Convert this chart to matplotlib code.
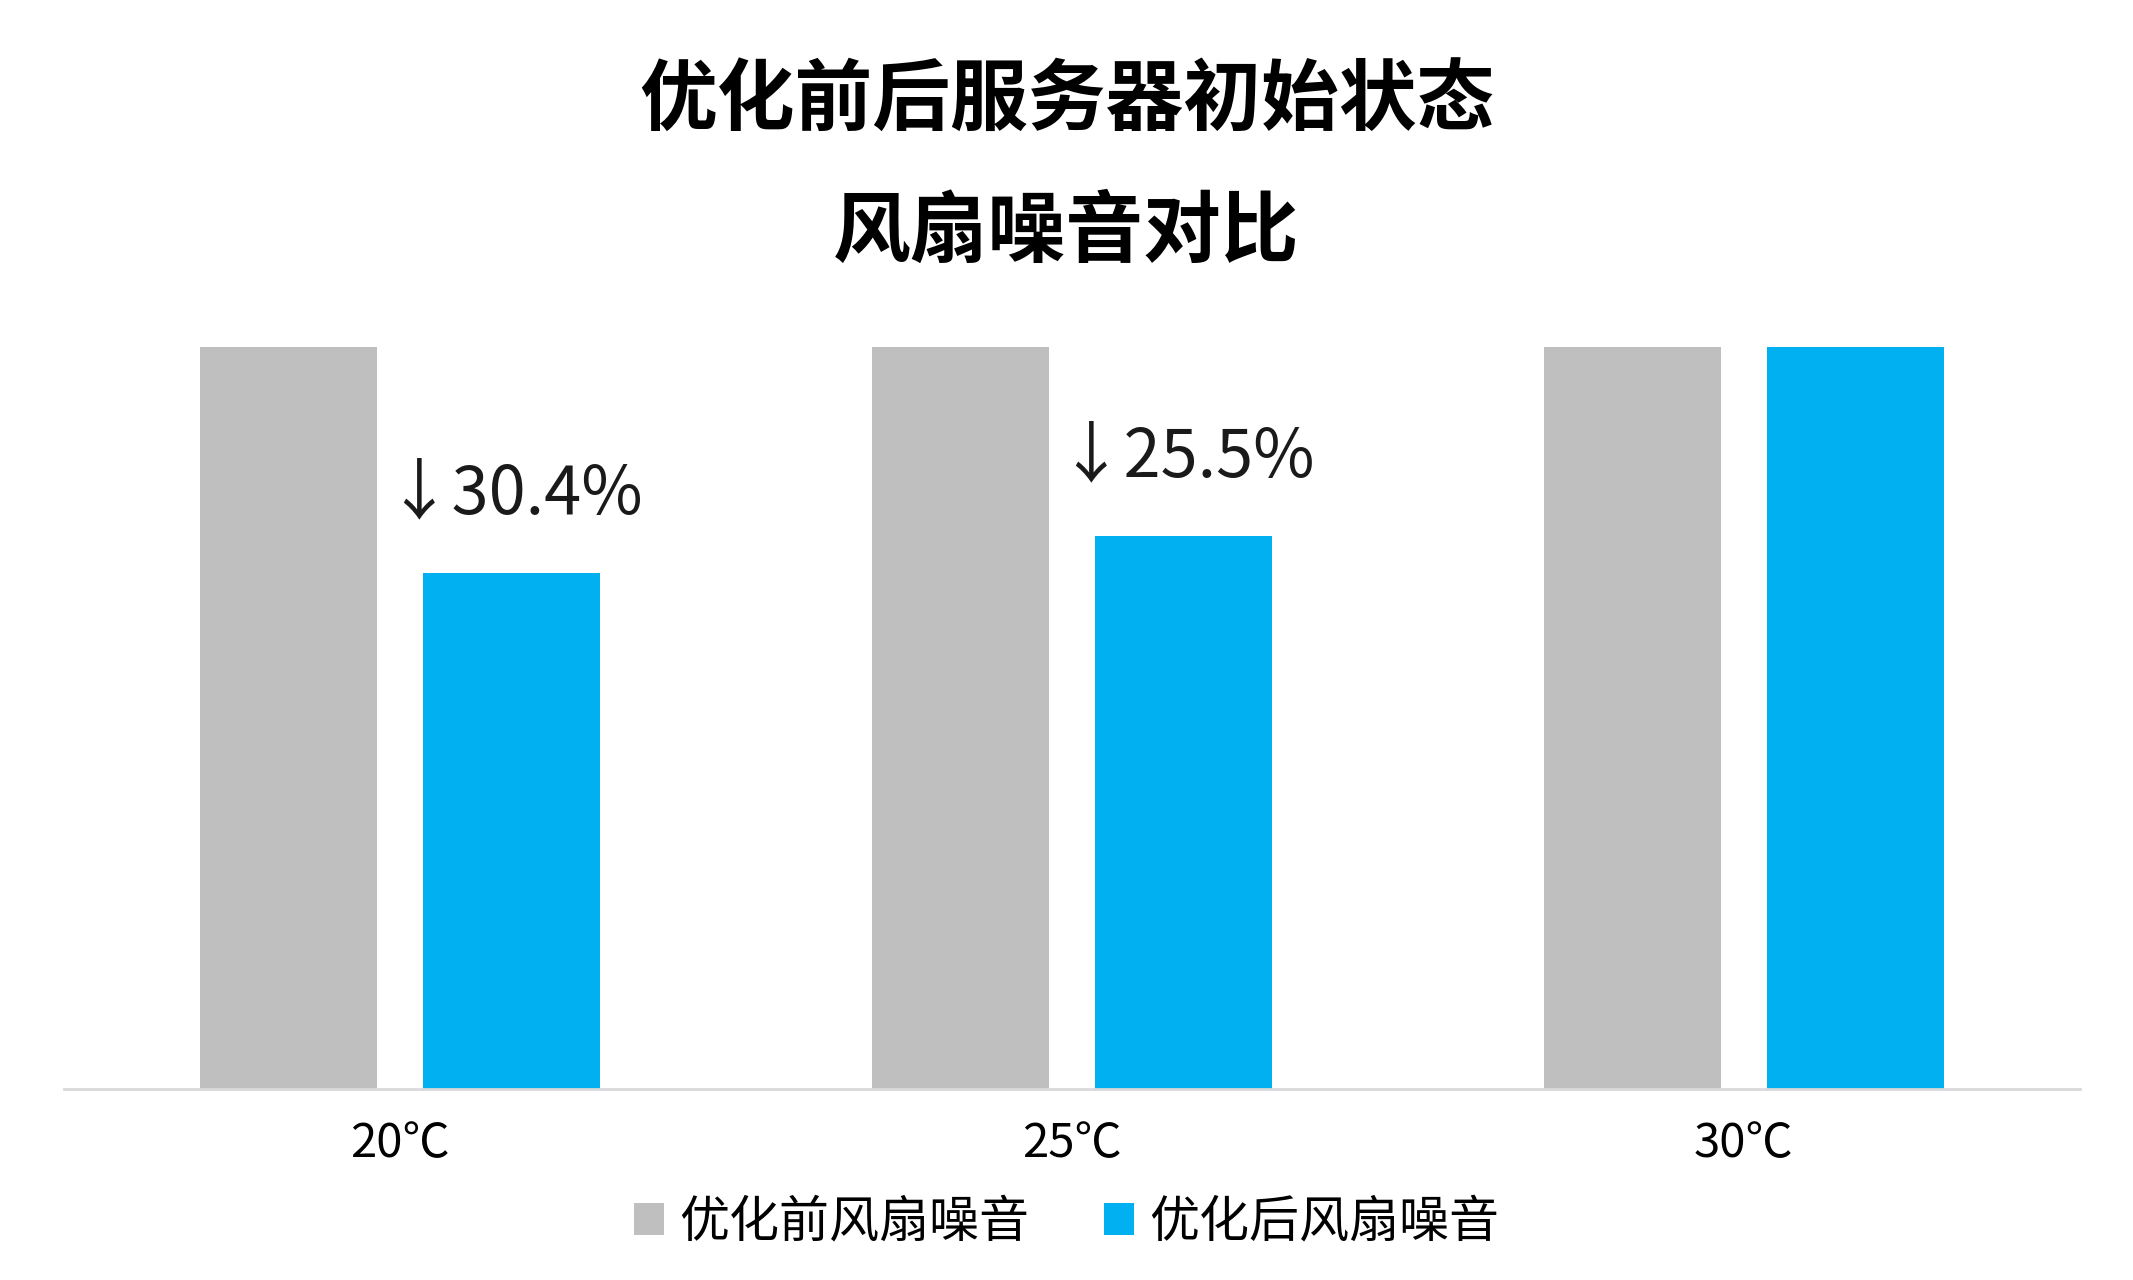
import matplotlib
matplotlib.use("Agg")
import matplotlib.pyplot as plt
import numpy as np

plt.rcParams['font.family'] = ['Noto Sans CJK SC', 'DejaVu Sans']

categories = ["20℃", "25℃", "30℃"]
before = [100, 100, 100]
after = [69.6, 74.5, 100]
labels = ["↓30.4%", "↓25.5%", None]
series_names = ["优化前风扇噪音", "优化后风扇噪音"]

fig = plt.figure(figsize=(21.33, 12.8), dpi=100)
ax = fig.add_axes([0.03, 0.149, 0.945, 0.58])
x = np.arange(len(categories))
w = 0.263
ax.bar(x - 0.166, before, w, color="#bfbfbf", label=series_names[0])
ax.bar(x + 0.166, after, w, color="#00b0f0", label=series_names[1])
for xi, v, lab in zip(x, after, labels):
    if lab:
        ax.text(xi + 0.17, v + 6, lab, ha="center", va="bottom", fontsize=48, style="italic", color="#1a1a1a")
ax.set_xlim(-0.5, 2.5)
ax.set_ylim(0, 100)
ax.set_yticks([])
ax.set_xticks(x)
ax.set_xticklabels(categories, fontsize=34, style="italic")
ax.tick_params(axis='x', length=0, pad=22)
for s in ["top", "right", "left"]:
    ax.spines[s].set_visible(False)
ax.spines["bottom"].set_color("#d9d9d9")
ax.spines["bottom"].set_linewidth(2)

fig.text(0.5, 0.92, "优化前后服务器初始状态", ha="center", va="center", fontsize=56, fontweight="bold")
fig.text(0.5, 0.818, "风扇噪音对比", ha="center", va="center", fontsize=56, fontweight="bold")
fig.legend(loc="center", bbox_to_anchor=(0.5, 0.045), ncol=2, frameon=False, fontsize=36,
           handlelength=0.6, handleheight=0.6, columnspacing=1.5, handletextpad=0.3)
fig.savefig("out.png", dpi=100)
